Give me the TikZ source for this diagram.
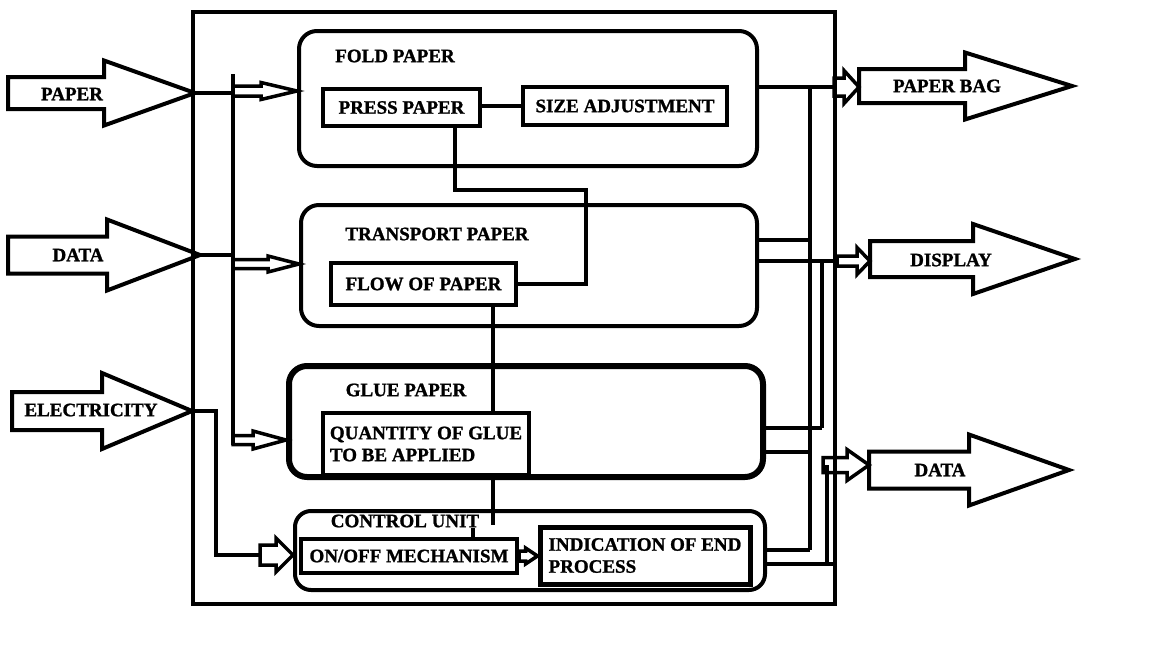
\documentclass[tikz,border=0pt]{standalone}
\usepackage{fontspec}
\setmainfont{Liberation Serif}[BoldFeatures={FakeBold=1.2}]
\usetikzlibrary{calc}
\tikzset{
  lbl/.style={font=\bfseries\fontsize{19}{22}\selectfont, inner sep=0pt},
  box/.style={draw, line width=4pt, inner sep=0pt, lbl},
  rbox/.style={draw, line width=4pt, rounded corners=18pt, inner sep=0pt},
  wire/.style={line width=4pt},
  outl/.style={line width=4pt, line join=miter},
  harrow/.style={line width=3.5pt, line join=miter},
  hollow/.style n args={3}{to path={let \p1=(\tikztostart), \p2=(\tikztotarget) in (\x1,\y1+#2pt) -- (\x2-#1pt,\y1+#2pt) -- (\x2-#1pt,\y1+#3pt) -- (\x2,\y1) -- (\x2-#1pt,\y1-#3pt) -- (\x2-#1pt,\y1-#2pt) -- (\x1,\y1-#2pt) -- cycle}},
}
\newcommand\BigArrow[7]{%
  \draw[outl] (#2,#5-#6) -- (#3,#5-#6) -- (#3,#5-#7) -- (#4,#5) -- (#3,#5+#7) -- (#3,#5+#6) -- (#2,#5+#6) -- cycle;
  \coordinate (#1-tip) at (#4,#5);
  \coordinate (#1-tail) at (#2,#5);
}
\begin{document}
\begin{tikzpicture}[x=1pt,y=-1pt]
\fill[white] (0,0) rectangle (1152,648);
\useasboundingbox (0,0) rectangle (1152,648);

% outer frame
\node[draw, line width=4pt, inner sep=0pt, minimum width=642pt, minimum height=592pt] (outer) at (514,308) {};

% input / output block arrows
\BigArrow{paper}{8}{104}{195}{93}{16}{32.5}
\node[lbl] (paperlbl) at (72,94) {PAPER};
\BigArrow{datain}{8}{107}{200}{255}{18.5}{35.5}
\node[lbl] (datainlbl) at (78,255) {DATA};
\BigArrow{elec}{12}{102}{192}{411}{19}{38}
\node[lbl] (eleclbl) at (91,410) {ELECTRICITY};
\BigArrow{bag}{859}{965}{1072}{86}{17}{33.5}
\node[lbl] (baglbl) at (947,86) {PAPER BAG};
\BigArrow{disp}{870}{973}{1075}{259}{18}{35}
\node[lbl] (displbl) at (951,260) {DISPLAY};
\BigArrow{dataout}{869}{969}{1069}{470}{18.5}{35.5}
\node[lbl] (dataoutlbl) at (940,470) {DATA};

% process boxes
\node[rbox, minimum width=458pt, minimum height=135pt] (fold) at (528,98.5) {};
\node[lbl] (foldt) at (395,56) {FOLD PAPER};
\node[box, minimum width=157pt, minimum height=37pt] (press) at (401.5,107.5) {PRESS PAPER};
\node[box, minimum width=204pt, minimum height=38pt] (size) at (625,106) {SIZE ADJUSTMENT};

\node[rbox, minimum width=456pt, minimum height=121pt] (transport) at (529,265.5) {};
\node[lbl] (transportt) at (437,234) {TRANSPORT PAPER};
\node[box, minimum width=185pt, minimum height=42pt] (flow) at (423.5,284) {FLOW OF PAPER};

\node[rbox, line width=6pt, minimum width=474pt, minimum height=111pt] (glue) at (526,421.5) {};
\node[lbl] (gluet) at (406,390) {GLUE PAPER};
\node[box, align=left, minimum width=206pt, minimum height=62pt] (quantity) at (426,444) {QUANTITY OF GLUE\\TO BE APPLIED};

\node[rbox, rounded corners=16pt, minimum width=470pt, minimum height=79pt] (control) at (530,550.5) {};
\node[lbl] (controlt) at (405,521) {CONTROL UNIT};
\node[box, minimum width=216pt, minimum height=34pt] (onoff) at (409,556) {ON/OFF MECHANISM};
\node[box, line width=5pt, align=left, minimum width=210pt, minimum height=57pt] (indic) at (645,555.5) {INDICATION OF END\\PROCESS};

% input bus
\coordinate (busT) at (233,74);
\coordinate (busB) at (233,445);
\coordinate (bA) at (233,91);
\coordinate (bB) at (233,264);
\coordinate (bC) at (233,440);
\draw[wire] (busT) -- (busB);
\draw[wire] (paper-tip) -- (paper-tip -| busT);
\draw[wire] (datain-tip) -- (datain-tip -| busT);
\draw[harrow] (bA) to[hollow={36}{5}{8.5}] (bA -| fold.west);
\draw[harrow] (bB) to[hollow={31}{4.5}{8}] (bB -| transport.west);
\draw[harrow] (bC) to[hollow={33}{4.5}{9}] (bC -| glue.west);

% electricity to on/off
\coordinate (e2) at (216,555);
\coordinate (e3) at (260,555);
\draw[wire] (elec-tip) -| (e2) -- (e3);
\draw[harrow] (e3) to[hollow={17}{10}{17}] (e3 -| control.west);
\draw[harrow] (onoff.east) to[hollow={12}{5}{8}] (indic.west);

% internal links
\draw[wire] (press.east |- size.west) -- (size.west);
\coordinate (j1) at (455,190);
\coordinate (j2) at (586,190);
\draw[wire] (press.south -| j1) -- (j1) -- (j2) |- (flow.east);
\coordinate (k) at (493,525);
\draw[wire] (flow.south -| k) -- (quantity.north -| k);
\draw[wire] (quantity.south -| k) -- (k);
\coordinate (t1) at (473,528);
\draw[wire] (t1) -- (t1 |- onoff.north);

% outputs
\coordinate (o1) at (834,87);
\draw[wire] (fold.east |- o1) -- (o1);
\draw[harrow] (o1) to[hollow={15}{9}{16.5}] (bag-tail);
\coordinate (v1t) at (810,87);
\coordinate (v1b) at (810,550);
\draw[wire] (v1t) -- (v1b);
\draw[wire] (transport.east |- 0,240) -- (810,240);
\draw[wire] (glue.east |- 0,452) -- (810,452);
\draw[wire] (control.east |- v1b) -- (v1b);

\coordinate (d1) at (837,261);
\draw[wire] (transport.east |- d1) -- (d1);
\draw[harrow] (d1) to[hollow={13}{5}{13.5}] (disp-tail |- d1);
\coordinate (v2t) at (822,261);
\coordinate (v2b) at (822,428);
\draw[wire] (v2t) -- (v2b);
\draw[wire] (glue.east |- v2b) -- (v2b);

\coordinate (da) at (823,465);
\draw[harrow] (da) to[hollow={22}{7.5}{15.5}] (dataout-tail |- da);
\coordinate (v3t) at (827,465);
\coordinate (v3b) at (827,564);
\draw[wire] (v3t) -- (v3b);
\draw[wire] (control.east |- v3b) -- (835,564);
\end{tikzpicture}
\end{document}
